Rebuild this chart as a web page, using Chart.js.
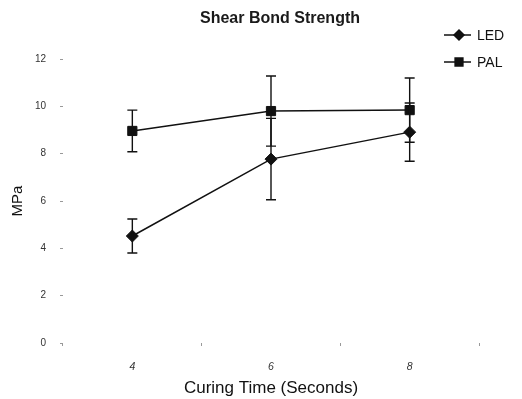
<!DOCTYPE html>
<html>
<head>
<meta charset="utf-8">
<script src="https://cdn.jsdelivr.net/npm/chart.js@4.4.1/dist/chart.umd.min.js"></script>
<style>
    html, body { margin: 0; padding: 0; background: #fff; }
    #wrap { width: 522px; height: 399px; }
</style>
</head>
<body>
<div id="wrap"><canvas id="sbsChart" width="522" height="399"></canvas></div>
<script>
// Data
const curingTimes = ['4', '6', '8'];
const ledValues = [4.52, 7.77, 8.91];
const ledErrors = [0.72, 1.72, 1.23];
const palValues = [8.96, 9.80, 9.84];
const palErrors = [0.88, 1.48, 1.36];
const yTicks = [0, 2, 4, 6, 8, 10, 12];

const ink = '#111';
const fontFamily = '"Liberation Sans", Arial, sans-serif';

// Error bars drawn from the y scale
const errorBarPlugin = {
    id: 'errorBars',
    afterDatasetsDraw(chart) {
        const ctx = chart.ctx;
        const y = chart.scales.y;
        chart.data.datasets.forEach((ds, di) => {
            const meta = chart.getDatasetMeta(di);
            ctx.save();
            ctx.strokeStyle = ink;
            ctx.lineWidth = 1.4;
            meta.data.forEach((pt, i) => {
                const v = ds.data[i];
                const e = ds.errors[i];
                const top = y.getPixelForValue(v + e);
                const bot = y.getPixelForValue(v - e);
                ctx.beginPath();
                ctx.moveTo(pt.x, top);
                ctx.lineTo(pt.x, bot);
                ctx.moveTo(pt.x - 5, top);
                ctx.lineTo(pt.x + 5, top);
                ctx.moveTo(pt.x - 5, bot);
                ctx.lineTo(pt.x + 5, bot);
                ctx.stroke();
            });
            ctx.restore();
        });
    }
};

// Title and legend (line + marker), placed like the original
const titleLegendPlugin = {
    id: 'titleLegend',
    afterDraw(chart) {
        const ctx = chart.ctx;
        ctx.save();
        ctx.fillStyle = '#1a1a1a';
        ctx.font = 'bold 16px ' + fontFamily;
        ctx.textAlign = 'center';
        ctx.textBaseline = 'middle';
        ctx.fillText('Shear Bond Strength', 280, 19);

        chart.data.datasets.forEach((ds, i) => {
            const ly = 35 + i * 27;
            ctx.strokeStyle = ink;
            ctx.lineWidth = 1.5;
            ctx.beginPath();
            ctx.moveTo(444, ly);
            ctx.lineTo(471, ly);
            ctx.stroke();
            ctx.fillStyle = ink;
            Chart.helpers.drawPoint(ctx, {
                pointStyle: ds.pointStyle,
                radius: ds.pointRadius - 1,
                borderWidth: 1
            }, 459, ly);
            ctx.fill();
            ctx.fillStyle = '#111';
            ctx.font = '14px ' + fontFamily;
            ctx.textBaseline = 'middle';
            ctx.textAlign = 'left';
            ctx.fillText(ds.label, 477, ly + 1);
        });
        ctx.restore();
    }
};

const ctx = document.getElementById('sbsChart').getContext('2d');
const sbsChart = new Chart(ctx, {
    type: 'line',
    data: {
        labels: curingTimes,
        datasets: [{
            label: 'LED',
            data: ledValues,
            errors: ledErrors,
            borderColor: ink,
            backgroundColor: ink,
            borderWidth: 1.5,
            pointStyle: 'rectRot',
            pointRadius: 6,
            pointBorderWidth: 1,
            tension: 0
        }, {
            label: 'PAL',
            data: palValues,
            errors: palErrors,
            borderColor: ink,
            backgroundColor: ink,
            borderWidth: 1.5,
            pointStyle: 'rect',
            pointRadius: 6.5,
            pointBorderWidth: 1,
            tension: 0
        }]
    },
    options: {
        responsive: false,
        animation: false,
        layout: { padding: { left: 0, right: 43, top: 59, bottom: 0 } },
        plugins: {
            legend: { display: false },
            tooltip: { enabled: false },
            title: { display: false }
        },
        scales: {
            x: {
                type: 'category',
                offset: true,
                afterFit: (scale) => { scale.height = 56; },
                grid: { offset: true, drawOnChartArea: false, tickLength: 3, color: '#999' },
                border: { display: false },
                ticks: {
                    color: '#333',
                    padding: 15,
                    font: { family: fontFamily, size: 10.5, style: 'italic' }
                },
                title: {
                    display: true,
                    text: 'Curing Time (Seconds)',
                    color: '#111',
                    font: { family: fontFamily, size: 17 },
                    padding: { top: 0, bottom: 0 }
                }
            },
            y: {
                min: 0,
                max: 12,
                afterFit: (scale) => { scale.width = 63; },
                afterBuildTicks: (scale) => { scale.ticks = yTicks.map(v => ({ value: v })); },
                grid: { drawOnChartArea: false, tickLength: 3, color: '#999' },
                border: { display: false },
                ticks: {
                    color: '#333',
                    padding: 14,
                    font: { family: fontFamily, size: 10 }
                },
                title: {
                    display: true,
                    text: 'MPa',
                    color: '#111',
                    font: { family: fontFamily, size: 15 },
                    padding: { top: 9, bottom: 0 }
                }
            }
        }
    },
    plugins: [errorBarPlugin, titleLegendPlugin]
});
</script>
</body>
</html>
